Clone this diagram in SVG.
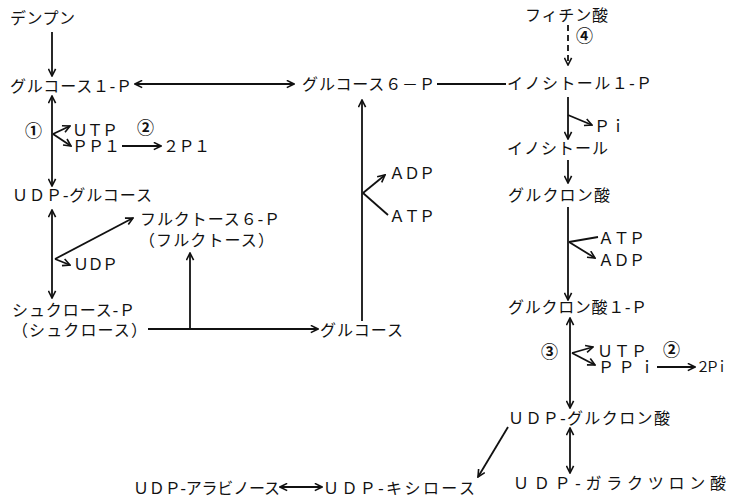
<svg xmlns="http://www.w3.org/2000/svg" width="730" height="497" viewBox="0 0 730 497">
<style>
  text { font-family: "Liberation Serif", "Noto Sans CJK JP", serif; font-size: 16px; fill: #111; }
  .c { font-family: "Noto Sans CJK JP", "DejaVu Sans", sans-serif; font-size: 17px; font-weight: 700; }
  .sm { font-size: 14px; }
  .ln { stroke: #111; stroke-width: 1.8; fill: none; }
  .a { marker-end: url(#ah); }
  .d { marker-start: url(#ah); marker-end: url(#ah); }
  .dash { stroke-dasharray: 6 4; }
</style>
<defs>
  <marker id="ah" viewBox="0 0 10 10" refX="9" refY="5" markerWidth="9" markerHeight="9" markerUnits="userSpaceOnUse" orient="auto-start-reverse">
    <path d="M1,1 L9,5 L1,9" fill="none" stroke="#111" stroke-width="1.8"/>
  </marker>
</defs>
<rect width="730" height="497" fill="#fff"/>

<g id="connectors">
  <line class="ln a" x1="52" y1="32" x2="52" y2="76"/>
  <line class="ln d" x1="135" y1="84" x2="294" y2="84"/>
  <line class="ln" x1="437" y1="84" x2="506" y2="84"/>
  <line class="ln d" x1="52" y1="96" x2="52" y2="186"/>
  <line class="ln a" x1="53" y1="134" x2="70" y2="126"/>
  <line class="ln a" x1="53" y1="134" x2="71" y2="146"/>
  <line class="ln a" x1="122" y1="146" x2="161" y2="146"/>
  <line class="ln d" x1="52" y1="210" x2="52" y2="298"/>
  <line class="ln a" x1="55" y1="259" x2="133" y2="218"/>
  <line class="ln a" x1="55" y1="259" x2="70" y2="265"/>
  <line class="ln a" x1="190" y1="330" x2="190" y2="253"/>
  <line class="ln a" x1="148" y1="329" x2="318" y2="329"/>
  <line class="ln a" x1="362" y1="321" x2="362" y2="100"/>
  <line class="ln a" x1="363" y1="193" x2="385" y2="175"/>
  <line class="ln" x1="363" y1="193" x2="388" y2="215"/>
  <line class="ln a dash" x1="568" y1="25" x2="568" y2="65"/>
  <line class="ln a" x1="568" y1="97" x2="568" y2="139"/>
  <line class="ln a" x1="568" y1="115" x2="592" y2="125"/>
  <line class="ln a" x1="568" y1="160" x2="568" y2="183"/>
  <line class="ln a" x1="568" y1="207" x2="568" y2="300"/>
  <line class="ln" x1="569" y1="242" x2="598" y2="237"/>
  <line class="ln a" x1="569" y1="242" x2="595" y2="258"/>
  <line class="ln d" x1="570" y1="318" x2="570" y2="408"/>
  <line class="ln a" x1="572" y1="353" x2="593" y2="347"/>
  <line class="ln a" x1="572" y1="353" x2="595" y2="365"/>
  <line class="ln a" x1="657" y1="367" x2="695" y2="367"/>
  <line class="ln d" x1="570" y1="428" x2="570" y2="473"/>
  <line class="ln a" x1="508" y1="427" x2="478" y2="477"/>
  <line class="ln d" x1="280" y1="487" x2="322" y2="487"/>
</g>

<g id="starch"><text x="10" y="24" textLength="65" lengthAdjust="spacing">デンプン</text></g>
<g id="glc1p"><text x="10" y="92" textLength="122" lengthAdjust="spacing">グルコース１-Ｐ</text></g>
<g id="glc6p"><text x="302" y="90" textLength="133" lengthAdjust="spacing">グルコース６－Ｐ</text></g>
<g id="ino1p"><text x="507" y="89" textLength="145" lengthAdjust="spacing">イノシトール１-Ｐ</text></g>
<g id="phytic"><text x="525" y="21" textLength="83" lengthAdjust="spacing">フィチン酸</text></g>
<g id="n4"><text class="c" x="576" y="42">④</text></g>
<g id="n1"><text class="c" x="25" y="137">①</text></g>
<g id="utp1"><text x="72" y="136" textLength="46" lengthAdjust="spacing">ＵＴＰ</text></g>
<g id="n2a"><text class="c" x="137" y="134">②</text></g>
<g id="ppi1"><text x="72" y="152" textLength="48" lengthAdjust="spacing">ＰＰ１</text></g>
<g id="pi2a"><text x="163" y="152" textLength="47" lengthAdjust="spacing">２Ｐ１</text></g>
<g id="udpglc"><text x="12" y="201" textLength="140" lengthAdjust="spacing">ＵＤＰ-グルコース</text></g>
<g id="fru6p">
  <text x="140" y="225" textLength="140" lengthAdjust="spacing">フルクトース６-Ｐ</text>
  <text x="139" y="246" textLength="135" lengthAdjust="spacing">（フルクトース）</text>
</g>
<g id="udp1"><text x="73" y="270" textLength="45" lengthAdjust="spacing">ＵＤＰ</text></g>
<g id="sucp">
  <text x="12" y="316" textLength="123" lengthAdjust="spacing">シュクロース-Ｐ</text>
  <text x="12" y="336" textLength="135" lengthAdjust="spacing">（シュクロース）</text>
</g>
<g id="glc"><text x="320" y="336" textLength="83" lengthAdjust="spacing">グルコース</text></g>
<g id="adp1"><text x="389" y="179" textLength="46" lengthAdjust="spacing">ＡＤＰ</text></g>
<g id="atp1"><text x="389" y="222" textLength="46" lengthAdjust="spacing">ＡＴＰ</text></g>
<g id="pi1"><text x="594" y="132">Ｐｉ</text></g>
<g id="inositol"><text x="507" y="154" textLength="101" lengthAdjust="spacing">イノシトール</text></g>
<g id="glcA"><text x="508" y="201" textLength="102" lengthAdjust="spacing">グルクロン酸</text></g>
<g id="atp2"><text x="598" y="244" textLength="47" lengthAdjust="spacing">ＡＴＰ</text></g>
<g id="adp2"><text x="598" y="266" textLength="47" lengthAdjust="spacing">ＡＤＰ</text></g>
<g id="glcA1p"><text x="508" y="313" textLength="139" lengthAdjust="spacing">グルクロン酸１-Ｐ</text></g>
<g id="n3"><text class="c" x="541" y="358">③</text></g>
<g id="utp2"><text x="597" y="357" textLength="50" lengthAdjust="spacing">ＵＴＰ</text></g>
<g id="n2b"><text class="c" x="663" y="356">②</text></g>
<g id="ppi2"><text x="598" y="373" textLength="57" lengthAdjust="spacing">ＰＰｉ</text></g>
<g id="pi2b"><text class="sm" x="696" y="372" textLength="33" lengthAdjust="spacing">２Ｐｉ</text></g>
<g id="udpglcA"><text x="508" y="424" textLength="162" lengthAdjust="spacing">ＵＤＰ-グルクロン酸</text></g>
<g id="udpgalA"><text x="513" y="489" textLength="213" lengthAdjust="spacing">ＵＤＰ-ガラクツロン酸</text></g>
<g id="udpara"><text x="133" y="494" textLength="147" lengthAdjust="spacing">ＵＤＰ-アラビノース</text></g>
<g id="udpxyl"><text x="323" y="494" textLength="152" lengthAdjust="spacing">ＵＤＰ-キシロース</text></g>
</svg>
